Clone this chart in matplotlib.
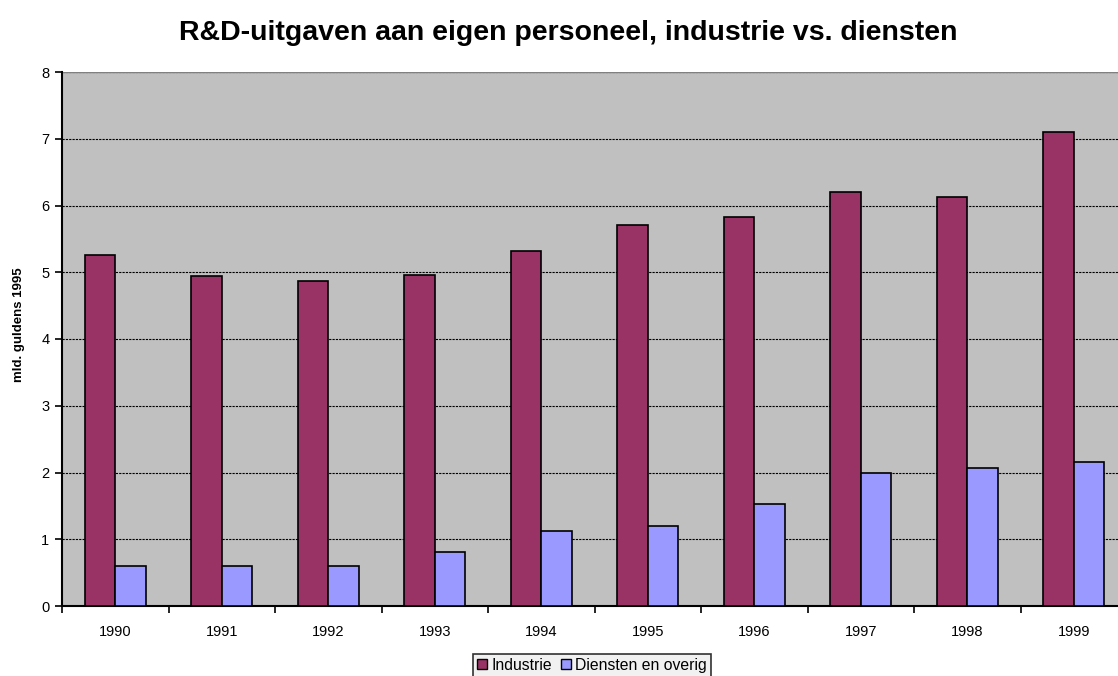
import numpy as np
import matplotlib.pyplot as plt
from matplotlib.lines import Line2D

plt.rcParams['font.family'] = ['Liberation Sans', 'DejaVu Sans']

years = ['1990', '1991', '1992', '1993', '1994', '1995', '1996', '1997', '1998', '1999']
industrie = [5.26, 4.94, 4.87, 4.96, 5.32, 5.71, 5.83, 6.20, 6.13, 7.10]
diensten = [0.60, 0.60, 0.60, 0.81, 1.12, 1.20, 1.53, 1.99, 2.07, 2.16]

W, H = 1118, 676
fig = plt.figure(figsize=(W / 100, H / 100), dpi=100)
ax = fig.add_axes([62 / W, 1 - 606 / H, (1127 - 62) / W, (606 - 72) / H])
ax.set_facecolor('#c0c0c0')

x = np.arange(len(years))
bw = 0.285
ax.bar(x - bw / 2, industrie, bw, color='#993366', edgecolor='black', linewidth=1.2, zorder=3)
ax.bar(x + bw / 2, diensten, bw, color='#9999ff', edgecolor='black', linewidth=1.2, zorder=3)

ax.set_xlim(-0.5, len(years) - 0.5)
ax.set_ylim(0, 8)
ax.set_yticks(range(9))
ax.yaxis.grid(True, color='black', linestyle=(0, (2, 1)), linewidth=0.8, zorder=1)
ax.set_axisbelow(True)

ax.set_xticks(x)
ax.set_xticklabels(years)
ax.set_xticks(np.arange(-0.5, len(years)), minor=True)
ax.tick_params(axis='x', which='major', length=0, pad=14, labelsize=10.5)
ax.tick_params(axis='x', which='minor', length=5, width=1.2, direction='out')
ax.tick_params(axis='y', length=5, width=1.2, direction='out', labelsize=10.5, pad=4)

for s in ['top', 'right']:
    ax.spines[s].set_visible(False)
ax.spines['left'].set_linewidth(1.5)
ax.spines['bottom'].set_linewidth(1.5)
ax.axhline(8, color='#808080', linewidth=1, zorder=2)

ax.set_ylabel('mld. guldens 1995', fontsize=9.5, fontweight='bold')
ax.yaxis.set_label_coords((25 - 62) / (1127 - 62), (606 - 325) / (606 - 72))

fig.text(568 / W, 1 - 33 / H, 'R&D-uitgaven aan eigen personeel, industrie vs. diensten',
         ha='center', va='center', fontsize=20.5, fontweight='bold')

handles = [
    Line2D([], [], marker='s', linestyle='none', markersize=7, markerfacecolor='#993366',
           markeredgecolor='black', markeredgewidth=1),
    Line2D([], [], marker='s', linestyle='none', markersize=7, markerfacecolor='#9999ff',
           markeredgecolor='black', markeredgewidth=1),
]
leg = fig.legend(handles, ['Industrie', 'Diensten en overig'], loc='upper left',
                 bbox_to_anchor=(473 / W, 1 - 654 / H), ncol=2, fontsize=11.3,
                 frameon=True, fancybox=False, handlelength=0.6, handletextpad=0.3,
                 columnspacing=0.6, borderpad=0.25, borderaxespad=0)
leg.get_frame().set_edgecolor('black')
leg.get_frame().set_linewidth(1.2)
leg.get_frame().set_facecolor('#eeeeee')

fig.savefig('out.png', dpi=100)
